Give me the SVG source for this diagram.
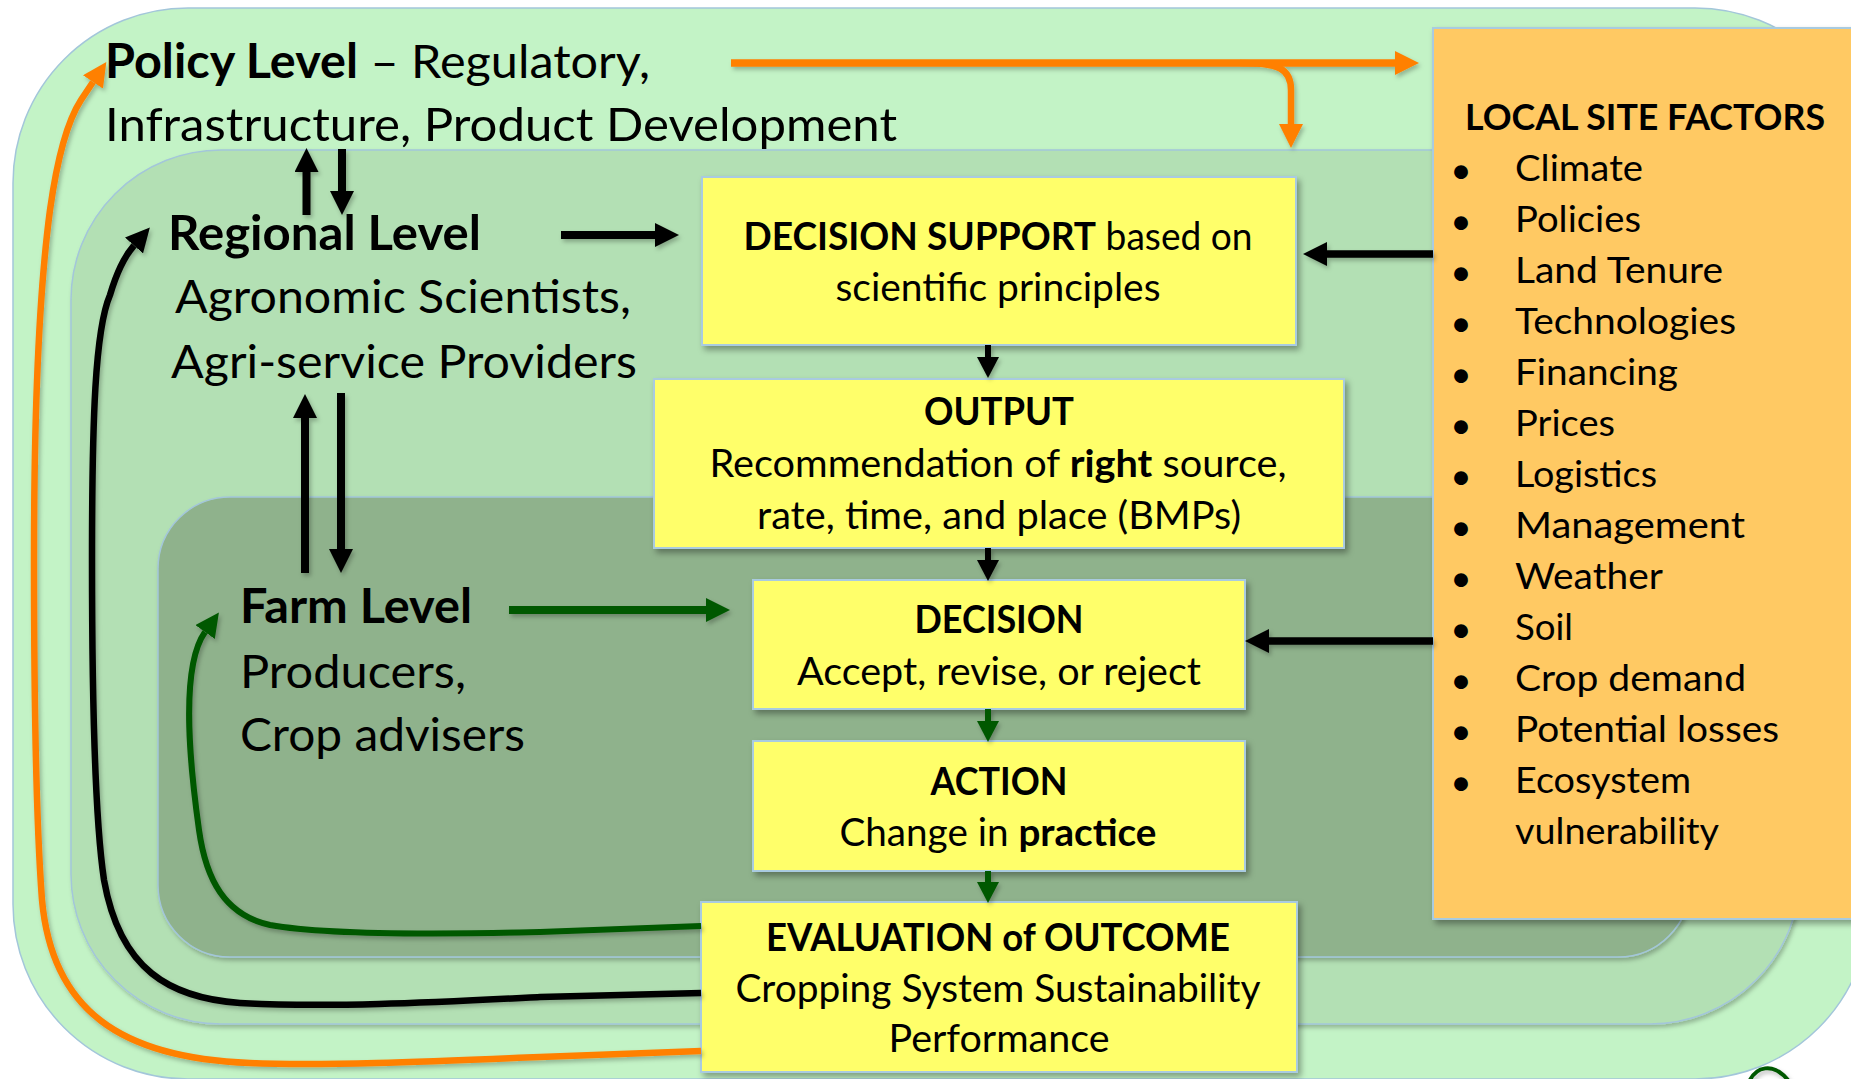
<svg xmlns="http://www.w3.org/2000/svg" width="1851" height="1079" viewBox="0 0 1851 1079">
<defs>
<style>
text{font-family:Lato,"Open Sans","Liberation Sans",sans-serif;fill:#000}
.lvl{font-size:47px}
.box{font-size:38px}
.lsf{font-size:37px}
.b{font-weight:700}
.level{stroke:#A3C6DA;stroke-width:1.5}
.ybox{fill:#FFFF6B;stroke:#A9CBE0;stroke-width:2}
.ln{fill:none;stroke-linecap:butt;stroke-linejoin:round}
.blk{stroke:#000}
.grn{stroke:#005800}
.org{stroke:#FF8000}
</style>
<filter id="sh" x="-10%" y="-10%" width="130%" height="130%">
<feDropShadow dx="3" dy="4" stdDeviation="3" flood-color="#000" flood-opacity="0.35"/>
</filter>
<filter id="shl" x="-10%" y="-10%" width="130%" height="130%">
<feDropShadow dx="2" dy="3" stdDeviation="2" flood-color="#000" flood-opacity="0.25"/>
</filter>
<marker id="hb" markerUnits="userSpaceOnUse" markerWidth="24" markerHeight="24" viewBox="0 0 24 24" refX="0" refY="12" orient="auto"><path d="M0,0 L24,12 L0,24 z" fill="#000"/></marker>
<marker id="hbs" markerUnits="userSpaceOnUse" markerWidth="21" markerHeight="22" viewBox="0 0 21 22" refX="0" refY="11" orient="auto"><path d="M0,0 L21,11 L0,22 z" fill="#000"/></marker>
<marker id="hg" markerUnits="userSpaceOnUse" markerWidth="24" markerHeight="24" viewBox="0 0 24 24" refX="0" refY="12" orient="auto"><path d="M0,0 L24,12 L0,24 z" fill="#005800"/></marker>
<marker id="hgs" markerUnits="userSpaceOnUse" markerWidth="21" markerHeight="22" viewBox="0 0 21 22" refX="0" refY="11" orient="auto"><path d="M0,0 L21,11 L0,22 z" fill="#005800"/></marker>
<marker id="ho" markerUnits="userSpaceOnUse" markerWidth="24" markerHeight="24" viewBox="0 0 24 24" refX="0" refY="12" orient="auto"><path d="M0,0 L24,12 L0,24 z" fill="#FF8000"/></marker>
</defs>

<g id="policy-level">
<rect class="level" x="13" y="8" width="1857" height="1071" rx="175" fill="#C3F3C6"/>
<text class="lvl" x="105" y="78" textLength="545" lengthAdjust="spacingAndGlyphs"><tspan class="b">Policy Level</tspan> – Regulatory,</text>
<text class="lvl" x="105" y="141" textLength="792" lengthAdjust="spacingAndGlyphs">Infrastructure, Product Development</text>
</g>

<g id="regional-level">
<rect class="level" x="71" y="150" width="1729" height="874" rx="150" fill="#B3E0B4" filter="url(#shl)"/>
<text class="lvl b" x="168" y="250" textLength="313" lengthAdjust="spacingAndGlyphs">Regional Level</text>
<text class="lvl" x="175" y="313" textLength="456" lengthAdjust="spacingAndGlyphs">Agronomic Scientists,</text>
<text class="lvl" x="171" y="378" textLength="466" lengthAdjust="spacingAndGlyphs">Agri-service Providers</text>
</g>

<g id="farm-level">
<rect class="level" x="158" y="497" width="1532" height="460" rx="72" fill="#8FB28C" filter="url(#shl)"/>
<text class="lvl b" x="240" y="623" textLength="232" lengthAdjust="spacingAndGlyphs">Farm Level</text>
<text class="lvl" x="240" y="688" textLength="226" lengthAdjust="spacingAndGlyphs">Producers,</text>
<text class="lvl" x="240" y="751" textLength="285" lengthAdjust="spacingAndGlyphs">Crop advisers</text>
</g>

<g id="decision-support">
<rect class="ybox" x="702" y="177" width="594" height="168" filter="url(#sh)"/>
<text class="box" x="998" y="250" text-anchor="middle" textLength="509" lengthAdjust="spacingAndGlyphs"><tspan class="b">DECISION SUPPORT</tspan> based on</text>
<text class="box" x="998" y="301" text-anchor="middle" textLength="325" lengthAdjust="spacingAndGlyphs">scientific principles</text>
</g>

<g id="output">
<rect class="ybox" x="654" y="379" width="690" height="169" filter="url(#sh)"/>
<text class="box b" x="999" y="425" text-anchor="middle" textLength="150" lengthAdjust="spacingAndGlyphs">OUTPUT</text>
<text class="box" x="998" y="477" text-anchor="middle" textLength="577" lengthAdjust="spacingAndGlyphs">Recommendation of <tspan class="b">right</tspan> source,</text>
<text class="box" x="999" y="529" text-anchor="middle" textLength="484" lengthAdjust="spacingAndGlyphs">rate, time, and place (BMPs)</text>
</g>

<g id="decision">
<rect class="ybox" x="753" y="580" width="492" height="129" filter="url(#sh)"/>
<text class="box b" x="999" y="633" text-anchor="middle" textLength="169" lengthAdjust="spacingAndGlyphs">DECISION</text>
<text class="box" x="999" y="685" text-anchor="middle" textLength="404" lengthAdjust="spacingAndGlyphs">Accept, revise, or reject</text>
</g>

<g id="action">
<rect class="ybox" x="753" y="741" width="492" height="130" filter="url(#sh)"/>
<text class="box b" x="999" y="795" text-anchor="middle" textLength="137" lengthAdjust="spacingAndGlyphs">ACTION</text>
<text class="box" x="998" y="846" text-anchor="middle" textLength="317" lengthAdjust="spacingAndGlyphs">Change in <tspan class="b">practice</tspan></text>
</g>

<g id="evaluation">
<rect class="ybox" x="701" y="902" width="596" height="170" filter="url(#sh)"/>
<text class="box b" x="998" y="951" text-anchor="middle" textLength="464" lengthAdjust="spacingAndGlyphs">EVALUATION of OUTCOME</text>
<text class="box" x="998" y="1002" text-anchor="middle" textLength="525" lengthAdjust="spacingAndGlyphs">Cropping System Sustainability</text>
<text class="box" x="999" y="1052" text-anchor="middle" textLength="221" lengthAdjust="spacingAndGlyphs">Performance</text>
</g>

<g id="local-site-factors">
<rect x="1433" y="28" width="440" height="891" fill="#FFC964" stroke="#A9CBE0" stroke-width="2" filter="url(#sh)"/>
<text class="lsf b" x="1465" y="130" textLength="360" lengthAdjust="spacingAndGlyphs">LOCAL SITE FACTORS</text>
<g class="lsf">
<text class="lsf" x="1461" y="183" text-anchor="middle">•</text><text class="lsf" x="1515" y="181" textLength="128" lengthAdjust="spacingAndGlyphs">Climate</text>
<text class="lsf" x="1461" y="234" text-anchor="middle">•</text><text class="lsf" x="1515" y="232" textLength="126" lengthAdjust="spacingAndGlyphs">Policies</text>
<text class="lsf" x="1461" y="285" text-anchor="middle">•</text><text class="lsf" x="1515" y="283" textLength="208" lengthAdjust="spacingAndGlyphs">Land Tenure</text>
<text class="lsf" x="1461" y="336" text-anchor="middle">•</text><text class="lsf" x="1515" y="334" textLength="221" lengthAdjust="spacingAndGlyphs">Technologies</text>
<text class="lsf" x="1461" y="387" text-anchor="middle">•</text><text class="lsf" x="1515" y="385" textLength="163" lengthAdjust="spacingAndGlyphs">Financing</text>
<text class="lsf" x="1461" y="438" text-anchor="middle">•</text><text class="lsf" x="1515" y="436" textLength="100" lengthAdjust="spacingAndGlyphs">Prices</text>
<text class="lsf" x="1461" y="489" text-anchor="middle">•</text><text class="lsf" x="1515" y="487" textLength="142" lengthAdjust="spacingAndGlyphs">Logistics</text>
<text class="lsf" x="1461" y="540" text-anchor="middle">•</text><text class="lsf" x="1515" y="538" textLength="230" lengthAdjust="spacingAndGlyphs">Management</text>
<text class="lsf" x="1461" y="591" text-anchor="middle">•</text><text class="lsf" x="1515" y="589" textLength="148" lengthAdjust="spacingAndGlyphs">Weather</text>
<text class="lsf" x="1461" y="642" text-anchor="middle">•</text><text class="lsf" x="1515" y="640" textLength="58" lengthAdjust="spacingAndGlyphs">Soil</text>
<text class="lsf" x="1461" y="693" text-anchor="middle">•</text><text class="lsf" x="1515" y="691" textLength="231" lengthAdjust="spacingAndGlyphs">Crop demand</text>
<text class="lsf" x="1461" y="744" text-anchor="middle">•</text><text class="lsf" x="1515" y="742" textLength="264" lengthAdjust="spacingAndGlyphs">Potential losses</text>
<text class="lsf" x="1461" y="795" text-anchor="middle">•</text><text class="lsf" x="1515" y="793" textLength="176" lengthAdjust="spacingAndGlyphs">Ecosystem</text>
<text class="lsf" x="1515" y="844" textLength="204" lengthAdjust="spacingAndGlyphs">vulnerability</text>
</g>
</g>

<g id="connectors" filter="url(#shl)">
<path class="ln org" stroke-width="7.5" d="M731 63 L1395 63" marker-end="url(#ho)"/>
<path class="ln org" stroke-width="6.5" d="M1240 63 C1278 63 1291 68 1291 90 L1291 124" marker-end="url(#ho)"/>
<path class="ln org" stroke-width="6.5" d="M701 1051 L540 1057 C420 1062 320 1066 250 1063 C120 1058 52 1010 42 900 C36 820 34 700 34 560 C34 420 38 300 50 210 C57 160 68 120 81 100 L93 82" marker-end="url(#ho)"/>
<path class="ln blk" stroke-width="8" d="M306.5 215 L306.5 172" marker-end="url(#hb)"/>
<path class="ln blk" stroke-width="8" d="M342 149 L342 191" marker-end="url(#hb)"/>
<path class="ln blk" stroke-width="8" d="M305 573 L305 418" marker-end="url(#hb)"/>
<path class="ln blk" stroke-width="8" d="M341 393 L341 549" marker-end="url(#hb)"/>
<path class="ln blk" stroke-width="8" d="M561 235 L655 235" marker-end="url(#hb)"/>
<path class="ln blk" stroke-width="7.5" d="M1433 254 L1327 254" marker-end="url(#hb)"/>
<path class="ln blk" stroke-width="7.5" d="M1433 641 L1269 641" marker-end="url(#hb)"/>
<path class="ln blk" stroke-width="6" d="M988 345 L988 357" marker-end="url(#hbs)"/>
<path class="ln blk" stroke-width="6" d="M988 548 L988 560" marker-end="url(#hbs)"/>
<path class="ln grn" stroke-width="6" d="M988 709 L988 721" marker-end="url(#hgs)"/>
<path class="ln grn" stroke-width="6" d="M988 871 L988 882" marker-end="url(#hgs)"/>
<path class="ln grn" stroke-width="8" d="M509 610 L706 610" marker-end="url(#hg)"/>
<path class="ln grn" stroke-width="6" d="M701 926 L540 932 C420 935 320 934 270 925 C225 915 206 880 199 830 C192 780 178 670 205 632" marker-end="url(#hg)"/>
<path class="ln blk" stroke-width="6.5" d="M701 993 L540 997 C440 1002 330 1008 240 1003 C170 998 120 970 104 880 C95 820 92 700 92 560 C92 420 95 330 110 295 C115 278 123 258 134 245.5" marker-end="url(#hb)"/>
<path class="ln grn" stroke-width="4" d="M1750 1080 C1756 1068 1772 1061 1788 1080"/>
</g>
</svg>
